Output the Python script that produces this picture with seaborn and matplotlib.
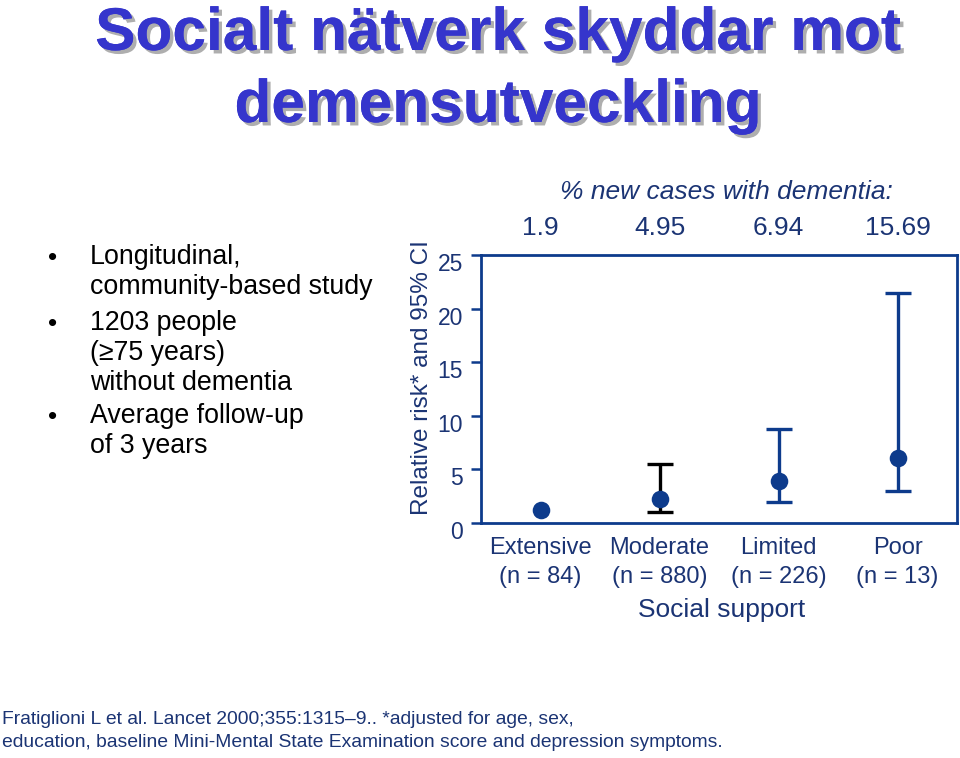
import numpy as np
import pandas as pd
import seaborn as sns
import matplotlib
matplotlib.use("Agg")
import matplotlib.pyplot as plt
import matplotlib.patheffects as pe
from matplotlib.transforms import ScaledTranslation

# ---- data ----
categories = ["Extensive", "Moderate", "Limited", "Poor"]
n_labels = ["(n = 84)", "(n = 880)", "(n = 226)", "(n = 13)"]
relative_risk = [1.2, 2.2, 3.95, 6.1]
ci_lower = [np.nan, 1.0, 2.0, 3.0]
ci_upper = [np.nan, 5.55, 8.8, 21.5]
ci_colors = ["#0d3b8c", "#000000", "#0d3b8c", "#0d3b8c"]
pct_new_cases = ["1.9", "4.95", "6.94", "15.69"]
yticks = [0, 5, 10, 15, 20, 25]

title_lines = ["Socialt nätverk skyddar mot", "demensutveckling"]
bullets = [
    "Longitudinal,\ncommunity-based study",
    "1203 people\n(\u226575 years)\nwithout dementia",
    "Average follow-up\nof 3 years",
]
footnote = ("Fratiglioni L et al. Lancet 2000;355:1315\u20139.. *adjusted for age, sex,\n"
            "education, baseline Mini-Mental State Examination score and depression symptoms.")

sns.set_theme(style="white")
plt.rcParams["font.family"] = ["Liberation Sans", "DejaVu Sans"]

NAVY = "#1b3474"
BLUE = "#0d3b8c"

fig = plt.figure(figsize=(9.6, 7.58), dpi=100)
ax = fig.add_axes([481 / 960, 1 - 523 / 758, (957 - 481) / 960, (523 - 255) / 758])

df = pd.DataFrame({"x": np.arange(len(categories)), "rr": relative_risk,
                   "lo": ci_lower, "hi": ci_upper})

# error bars
for i, row in df.iterrows():
    if np.isnan(row["lo"]):
        continue
    ax.errorbar(row["x"], row["rr"],
                yerr=[[row["rr"] - row["lo"]], [row["hi"] - row["rr"]]],
                fmt="none", ecolor=ci_colors[i], elinewidth=2.4,
                capsize=9.5, capthick=2.4, zorder=2)

sns.scatterplot(data=df, x="x", y="rr", ax=ax, color=BLUE, s=160,
                edgecolor=BLUE, linewidth=0, zorder=3, legend=False)

ax.set_xlim(-0.5, 3.5)
ax.set_ylim(0, 25)
ax.set_yticks(yticks)
ax.set_yticklabels([str(t) for t in yticks])
ax.set_xticks(df["x"])
ax.set_xticklabels([f"{c}\n{n}" for c, n in zip(categories, n_labels)],
                   linespacing=1.4)

for s in ax.spines.values():
    s.set_visible(True)
    s.set_color(BLUE)
    s.set_linewidth(2.0)

ax.tick_params(axis="y", which="both", left=True, length=7, width=1.8,
               color=BLUE, labelsize=16.5, labelcolor=NAVY, pad=6, direction="out")
ax.tick_params(axis="x", length=0, labelsize=17, labelcolor=NAVY, pad=10)
for lab in ax.get_yticklabels():
    lab.set_transform(lab.get_transform() + ScaledTranslation(0, -0.07, fig.dpi_scale_trans))

ax.set_xlabel("Social support", fontsize=19, color=NAVY)
ax.xaxis.set_label_coords((722 - 481) / 476, -(610 - 523) / 268)
ax.xaxis.label.set_va("center")
ax.set_ylabel("Relative risk* and 95% CI", fontsize=17.5, color=NAVY)
ax.yaxis.set_label_coords((422 - 481) / 476, (523 - 378) / 268)
ax.yaxis.label.set_va("center")

# % new cases row
ax.text((726 - 481) / 476, (255 - 192) / 268 + 1, "% new cases with dementia:",
        transform=ax.transAxes, fontsize=19, style="italic", color=NAVY,
        ha="center", va="center")
for xi, t in enumerate(pct_new_cases):
    ax.text(xi, 1 + (255 - 228) / 268, t, transform=ax.get_xaxis_transform(),
            fontsize=19, color=NAVY, ha="center", va="center")

# title with shadow
for line, base in zip(title_lines, [50, 122]):
    fig.text(498 / 960, 1 - base / 758, line, ha="center", va="baseline",
             fontsize=43.5, fontweight="bold", color="#3535cc",
             path_effects=[pe.withSimplePatchShadow(offset=(2.5, -2.5),
                                                    shadow_rgbFace="#9a9a9a", alpha=0.8),
                           pe.Normal()])

# bullets
bullet_y = [258, 324, 417]
for y, txt in zip(bullet_y, bullets):
    fig.text(53 / 960, 1 - y / 758, "\u2022", fontsize=19, color="black",
             ha="center", va="center")
    fig.text(90 / 960, 1 - (y - 14) / 758, txt, fontsize=19.3, color="black",
             ha="left", va="top", linespacing=1.2)

# footnote
fig.text(2 / 960, 1 - 711 / 758, footnote, fontsize=13.9, color=NAVY,
         ha="left", va="top", linespacing=1.45)

fig.savefig("out.png", dpi=100)
